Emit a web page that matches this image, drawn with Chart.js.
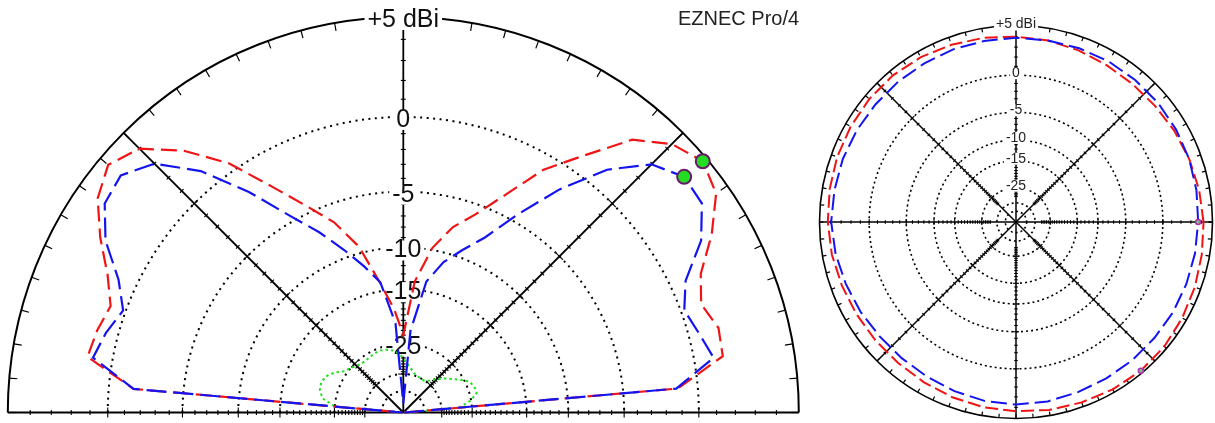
<!DOCTYPE html>
<html>
<head>
<meta charset="utf-8">
<script src="https://cdn.jsdelivr.net/npm/chart.js@4.4.1/dist/chart.umd.min.js"></script>
<style>
  html, body { margin: 0; padding: 0; background: #fff; }
  #wrap { position: relative; width: 1215px; height: 423px; overflow: hidden; }
  #elevBox { position: absolute; left: 0; top: 0; width: 810px; height: 423px; }
  #azBox { position: absolute; left: 810px; top: 0; width: 405px; height: 423px; }
  #prog { position: absolute; left: 678px; top: 7px; font: 20px "Liberation Sans", Arial, sans-serif; color: #222; }
</style>
</head>
<body>
<div id="wrap">
  <div id="elevBox"><canvas id="elevChart" width="810" height="423"></canvas></div>
  <div id="azBox"><canvas id="azChart" width="405" height="423"></canvas></div>
  <div id="prog">EZNEC Pro/4</div>
</div>
<script>
//---------------------- Data -----------------------//
// elevation pattern (dBi), 0 deg = right horizon
const elevAngles = [0, 5, 10, 15, 20, 25, 30, 35, 40, 45, 50, 55, 60, 65, 70, 75, 80, 85, 90,
                    95, 100, 105, 110, 115, 120, 125, 130, 135, 140, 145, 150, 155, 160, 165, 170, 175, 180];
const elevRed = [-99, -1.2, 1.6, 1.7, 1.2, 1.8, 3.2, 4.4, 4.8, 4.3, 3.2, 1.0, -0.9, -3.6, -5.8, -7.4, -9.8, -13.9, -23,
                 -18, -14.0, -9.3, -6.5, -4.5, -2.2, 0.5, 2.5, 4.0, 4.55, 4.0, 2.9, 1.7, 0.9, 1.2, 1.4, -1.5, -99];
const elevBlue = [-99, -1.3, 1.1, 0.6, 0.2, 0.9, 2.6, 3.6, 3.7, 2.95, 1.2, -1.4, -4.4, -7.3, -9.2, -11.0, -13.7, -22, -60,
                  -20.5, -13.8, -11.5, -9.2, -6.8, -4.5, -1.6, 1.1, 3.0, 3.8, 3.6, 2.6, 1.05, 0.15, 0.7, 1.1, -1.5, -99];
const elevGreen = [-99, -28.5, -25.1, -23.3, -23.4, -24, -25.8, -27.8, -29.5, -31.5, -33.5, -35, -35.3, -35, -34.5, -34, -32.5, -31, -29,
                   -27.5, -26.5, -26, -25.7, -25.8, -26, -26.2, -26.2, -25.7, -25, -24.2, -22.5, -21.3, -20.9, -21.1, -22, -25, -99];
const elevCursor = 40;

// azimuth pattern (dBi), 0 deg = right, counter-clockwise
const azAngles = [0, 10, 20, 30, 40, 50, 60, 70, 80, 90, 100, 110, 120, 130, 140, 150, 160, 170, 180,
                  190, 200, 210, 220, 230, 240, 250, 260, 270, 280, 290, 300, 310, 320, 330, 340, 350, 360];
const azRed = [4.2, 4.05, 3.9, 3.75, 3.6, 3.55, 3.6, 3.75, 3.9, 4.0, 4.15, 4.3, 4.45, 4.55, 4.55, 4.5, 4.45, 4.35, 4.26,
               4.15, 4.0, 3.9, 3.85, 3.85, 3.95, 4.1, 4.25, 4.35, 4.5, 4.6, 4.72, 4.8, 4.75, 4.6, 4.45, 4.3, 4.2];
const azBlue = [3.7, 3.8, 3.9, 3.95, 4.0, 4.0, 4.0, 3.95, 3.9, 3.9, 3.85, 3.85, 3.8, 3.8, 3.8, 3.85, 3.9, 3.9, 3.95,
                3.8, 3.6, 3.45, 3.3, 3.28, 3.35, 3.5, 3.65, 3.74, 3.7, 3.6, 3.55, 3.55, 3.55, 3.6, 3.62, 3.66, 3.7];
const azCursorRed = 310;
const azCursorBlue = 0;

// scale
const maxGain = 5;
const ringLevels = [0, -5, -10, -15, -25, -35, -45];
const ringLabels = ['0', '-5', '-10', '-15', '-25'];
const topLabel = '+5 dBi';

//---------------------- Functions -----------------------//

// ARRL log scale: 0.89 per 2 dB below the outer ring
function arrl(db) {
    return Math.pow(0.89, (maxGain - db) / 2);
}

function toXY(angles, gains) {
    return angles.map((a, i) => {
        let r = arrl(gains[i]);
        let t = a * Math.PI / 180;
        return { x: r * Math.cos(t), y: r * Math.sin(t) };
    });
}

function pick(angles, gains, angle) {
    let i = angles.indexOf(angle);
    return toXY([angle], [gains[i]])[0];
}

const polarGrid = {
    id: 'polarGrid',
    beforeDatasetsDraw(chart, args, o) {
        const ctx = chart.ctx;
        const sx = chart.scales.x, sy = chart.scales.y;
        const cx = sx.getPixelForValue(0), cy = sy.getPixelForValue(0);
        const R = sx.getPixelForValue(1) - cx;
        const rad = Math.PI / 180;
        const at = (deg, r) => [cx + r * Math.cos(deg * rad), cy - r * Math.sin(deg * rad)];
        const seg = (p, q) => { ctx.beginPath(); ctx.moveTo(p[0], p[1]); ctx.lineTo(q[0], q[1]); ctx.stroke(); };

        ctx.save();
        ctx.strokeStyle = '#000';

        // dotted rings
        ctx.lineWidth = o.dotWidth;
        ctx.setLineDash(o.dotDash);
        ringLevels.forEach(db => {
            ctx.beginPath();
            ctx.arc(cx, cy, R * arrl(db), -o.to * rad, -o.from * rad);
            ctx.stroke();
        });
        ctx.setLineDash([]);

        // outer rim with 5 deg ticks
        ctx.lineWidth = o.rimWidth;
        ctx.beginPath();
        ctx.arc(cx, cy, R, -o.to * rad, -o.from * rad);
        ctx.stroke();
        ctx.lineWidth = 1.2;
        for (let a = o.from; a <= o.to; a += 5) {
            seg(at(a, R), at(a, R - o.rimTick));
        }

        // spokes with 1 dB ticks
        o.spokes.forEach(a => {
            ctx.lineWidth = o.spokeWidth;
            seg([cx, cy], at(a, R));
            ctx.lineWidth = 1.1;
            let nx = Math.sin(a * rad), ny = Math.cos(a * rad);
            for (let db = maxGain - 1; db >= o.tickFloor; db--) {
                let p = at(a, R * arrl(db));
                let h = ringLevels.includes(db) ? o.bigTick : o.smallTick;
                seg([p[0] - nx * h, p[1] - ny * h], [p[0] + nx * h, p[1] + ny * h]);
            }
        });

        // labels on white boxes
        ctx.font = o.font;
        ctx.textAlign = 'center';
        ctx.textBaseline = 'middle';
        const tag = (txt, y) => {
            let w = ctx.measureText(txt).width;
            ctx.fillStyle = '#fff';
            ctx.fillRect(cx - w / 2 - o.pad, y - o.boxH / 2, w + 2 * o.pad, o.boxH);
            ctx.fillStyle = o.textColor;
            ctx.fillText(txt, cx, y);
        };
        tag(topLabel, cy - R + o.topShift);
        ringLabels.forEach((t, i) => tag(t, cy - R * arrl(ringLevels[i]) + o.labelShift));
        ctx.restore();
    }
};

function scalesFor(cx, cy, R, w, h) {
    return {
        x: { type: 'linear', display: false, bounds: 'data', min: -cx / R, max: (w - cx) / R },
        y: { type: 'linear', display: false, bounds: 'data', min: -(h - cy) / R, max: cy / R }
    };
}

function line(data, color, width, dash, order) {
    return {
        data: data, showLine: true, borderColor: color, borderWidth: width, borderDash: dash,
        pointRadius: 0, fill: false, tension: 0, order: order
    };
}

function baseOptions(scales, grid) {
    return {
        responsive: false,
        animation: false,
        layout: { padding: 0, autoPadding: false },
        clip: false,
        scales: scales,
        plugins: { legend: { display: false }, tooltip: { enabled: false }, polarGrid: grid }
    };
}

//---------------------- Charts -----------------------//

new Chart(document.getElementById('elevChart'), {
    type: 'scatter',
    data: {
        datasets: [
            {
                data: [pick(elevAngles, elevRed, elevCursor), pick(elevAngles, elevBlue, elevCursor)],
                pointRadius: 7, pointBackgroundColor: '#22dd22', pointBorderColor: '#6a1a6a',
                pointBorderWidth: 2, showLine: false, order: 0
            },
            line(toXY(elevAngles, elevBlue), '#1414f0', 2.2, [20, 7], 1),
            line(toXY(elevAngles, elevRed), '#f01414', 2.2, [16, 7], 2),
            line(toXY(elevAngles, elevGreen), '#22e022', 2, [2.5, 3], 3)
        ]
    },
    options: baseOptions(scalesFor(403.3, 412.5, 395.5, 810, 423), {
        from: 0, to: 180, spokes: [0, 45, 90, 135, 180],
        dotWidth: 2, dotDash: [2, 4.5], rimWidth: 2, rimTick: 8, spokeWidth: 1.8,
        smallTick: 2.5, bigTick: 5, tickFloor: -35,
        font: '25px "Liberation Sans", Arial, sans-serif', textColor: '#111',
        pad: 3, boxH: 20, topShift: 3, labelShift: 3
    }),
    plugins: [polarGrid]
});

new Chart(document.getElementById('azChart'), {
    type: 'scatter',
    data: {
        datasets: [
            {
                data: [pick(azAngles, azRed, azCursorRed), pick(azAngles, azBlue, azCursorBlue)],
                pointRadius: 2.5, pointBackgroundColor: '#7fbf7f', pointBorderColor: '#b030b0',
                pointBorderWidth: 1.5, showLine: false, order: 0
            },
            line(toXY(azAngles, azBlue), '#1414f0', 2, [16, 6], 1),
            line(toXY(azAngles, azRed), '#f01414', 2, [13, 5], 2)
        ]
    },
    options: baseOptions(scalesFor(206, 222, 196.5, 405, 423), {
        from: 0, to: 360, spokes: [0, 45, 90, 135, 180, 225, 270, 315],
        dotWidth: 1.6, dotDash: [2, 3], rimWidth: 1.6, rimTick: 4, spokeWidth: 1.5,
        smallTick: 1.8, bigTick: 3, tickFloor: -30,
        font: '14px "Liberation Sans", Arial, sans-serif', textColor: '#222',
        pad: 2, boxH: 12, topShift: -1, labelShift: -2
    }),
    plugins: [polarGrid]
});
</script>
</body>
</html>
